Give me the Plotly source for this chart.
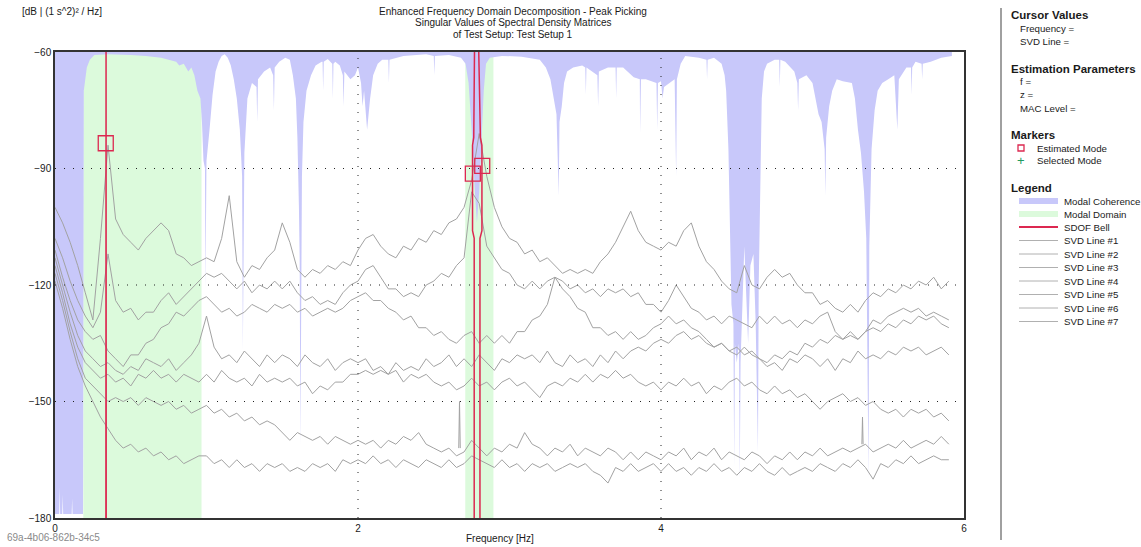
import plotly.graph_objects as go

# ---------------- data ----------------
FREQ_STEP = 0.05
FREQ = [round(i * FREQ_STEP, 2) for i in range(119)]  # 0.00 ... 5.90 Hz

SVD1 = [-100, -104, -109, -115, -122, -129, -108, -84, -103, -107,
        -109, -111, -108, -106, -104, -106, -112, -113, -115, -114,
        -113, -114, -108, -97, -114, -118, -115, -116, -113, -111,
        -104, -109, -116, -118, -116, -117, -115, -116, -114, -115,
        -111, -108, -107, -110, -112, -113, -110, -111, -108, -109,
        -106, -107, -104, -103, -100, -93, -81, -92, -100, -105,
        -108, -109, -112, -111, -114, -113, -115, -117, -116, -117,
        -116, -117, -114, -112, -109, -105, -101, -106, -109, -110,
        -111, -109, -110, -106, -104, -110, -114, -116, -119, -121,
        -122, -115, -120, -121, -118, -116, -118, -117, -120, -122,
        -122, -125, -124, -126, -127, -125, -127, -124, -122, -123,
        -121, -122, -120, -121, -119, -120, -118, -121, -119]
SVD2 = [-108, -113, -119, -124, -128, -131, -127, -112, -124, -127,
        -126, -129, -127, -127, -124, -122, -125, -123, -121, -119,
        -117, -118, -117, -119, -121, -119, -122, -120, -121, -119,
        -121, -119, -122, -124, -123, -125, -124, -125, -122, -120,
        -119, -116, -115, -118, -121, -121, -123, -122, -123, -120,
        -119, -117, -118, -115, -113, -96, -99, -110, -113, -116,
        -117, -120, -121, -119, -121, -119, -118, -121, -123, -126,
        -127, -131, -131, -133, -132, -134, -132, -134, -133, -131,
        -130, -128, -130, -129, -131, -132, -134, -136, -135, -137,
        -138, -136, -138, -139, -140, -138, -139, -137, -138, -135,
        -136, -134, -135, -133, -134, -132, -134, -132, -131, -132,
        -130, -131, -129, -130, -128, -129, -128, -130, -131]
SVD3 = [-111, -118, -124, -129, -132, -134, -133, -137, -139, -141,
        -138, -138, -135, -134, -131, -130, -127, -128, -126, -124,
        -123, -125, -127, -126, -128, -127, -125, -126, -127, -125,
        -126, -125, -127, -126, -128, -127, -126, -127, -126, -124,
        -123, -122, -124, -124, -126, -127, -129, -128, -131, -131,
        -133, -132, -134, -135, -133, -132, -135, -133, -135, -133,
        -135, -132, -132, -129, -128, -125, -118, -119, -121, -120,
        -122, -121, -123, -121, -122, -121, -123, -122, -125, -125,
        -127, -124, -120, -123, -126, -127, -129, -128, -130, -128,
        -129, -130, -131, -128, -130, -128, -130, -129, -131, -129,
        -130, -128, -127, -132, -134, -133, -134, -132, -129, -130,
        -128, -127, -126, -127, -126, -128, -127, -128, -129]
SVD4 = [-113, -120, -127, -133, -137, -139, -141, -140, -142, -143,
        -141, -142, -139, -140, -141, -139, -142, -140, -138, -135,
        -128, -136, -139, -138, -140, -137, -139, -141, -138, -140,
        -138, -139, -141, -138, -140, -141, -139, -142, -140, -139,
        -140, -139, -142, -141, -143, -140, -142, -141, -142, -139,
        -141, -140, -138, -141, -139, -141, -138, -140, -142, -139,
        -140, -138, -139, -138, -140, -137, -140, -141, -138, -140,
        -139, -141, -138, -140, -137, -139, -137, -136, -137, -135,
        -134, -135, -133, -132, -134, -133, -135, -136, -135, -137,
        -136, -138, -137, -139, -141, -140, -142, -139, -140, -138,
        -139, -141, -139, -142, -139, -140, -137, -139, -138, -139,
        -137, -138, -136, -137, -136, -138, -137, -136, -138]
SVD5 = [-115, -122, -130, -136, -140, -142, -144, -143, -145, -144,
        -146, -143, -144, -142, -144, -143, -145, -143, -144, -145,
        -143, -145, -142, -144, -145, -144, -146, -143, -145, -144,
        -145, -144, -146, -145, -148, -146, -147, -145, -145, -143,
        -143, -142, -143, -142, -143, -142, -145, -143, -144, -143,
        -145, -146, -145, -147, -146, -144, -146, -145, -147, -145,
        -144, -146, -145, -147, -149, -146, -145, -146, -144, -145,
        -143, -145, -143, -144, -142, -144, -143, -145, -146, -145,
        -147, -145, -146, -144, -146, -145, -148, -146, -147, -145,
        -144, -146, -145, -147, -148, -146, -148, -147, -149, -148,
        -150, -152, -150, -149, -148, -150, -149, -151, -150, -152,
        -153, -152, -154, -152, -153, -152, -154, -153, -155]
SVD6 = [-117, -124, -132, -139, -144, -146, -148, -150, -149, -150,
        -149, -151, -149, -150, -151, -150, -152, -151, -153, -152,
        -151, -153, -152, -154, -153, -155, -154, -156, -155, -156,
        -158, -160, -158, -159, -160, -159, -161, -159, -160, -161,
        -160, -161, -160, -162, -160, -161, -159, -160, -158, -161,
        -162, -163, -162, -164, -163, -160, -162, -164, -162, -163,
        -161, -162, -158, -161, -162, -164, -162, -163, -161, -164,
        -162, -163, -164, -162, -163, -165, -163, -165, -163, -164,
        -165, -163, -164, -162, -165, -163, -164, -162, -165, -163,
        -164, -165, -163, -164, -166, -164, -165, -163, -165, -163,
        -164, -162, -164, -163, -162, -163, -162, -161, -163, -162,
        -161, -162, -160, -162, -161, -160, -161, -159, -161]
SVD7 = [-119, -126, -134, -141, -146, -150, -154, -157, -160, -162,
        -161, -163, -162, -164, -163, -165, -164, -166, -165, -164,
        -164, -166, -165, -167, -165, -167, -166, -168, -166, -167,
        -166, -168, -167, -168, -166, -167, -166, -168, -165, -166,
        -165, -166, -164, -166, -165, -167, -165, -166, -167, -165,
        -166, -167, -165, -167, -166, -164, -165, -166, -167, -165,
        -167, -166, -168, -166, -167, -166, -168, -167, -166, -167,
        -166, -168, -169, -171, -167, -168, -166, -168, -167, -166,
        -168, -166, -168, -167, -169, -167, -168, -166, -168, -167,
        -169, -167, -168, -166, -168, -169, -167, -169, -168, -167,
        -168, -166, -167, -168, -166, -167, -165, -167, -170, -166,
        -167, -165, -166, -164, -166, -165, -164, -165, -165]
SVD_LINES = [SVD1, SVD2, SVD3, SVD4, SVD5, SVD6, SVD7]
SVD_NAMES = ["SVD Line #%d" % (i + 1) for i in range(7)]

# short single-sample spikes on the lower singular value lines
SPIKE_F = [2.665, 2.670, 2.675, None, 5.326, 5.330, 5.334]
SPIKE_DB = [-162, -150, -162, None, -161, -154, -161]

# modal coherence outline (drawn from the top of the plot down to this level)
COH_F = [0.000, 0.028, 0.031, 0.034, 0.048, 0.051, 0.054, 0.110, 0.113, 0.116, 0.185,
         0.190, 0.210, 0.230, 0.260, 0.350, 0.500, 0.600, 0.700, 0.750, 0.800, 0.820, 0.850,
         0.880, 0.900, 0.920, 0.940, 0.960, 0.970,
         0.980, 0.990, 0.993, 0.996, 1.000, 1.020, 1.040, 1.060, 1.080, 1.100,
         1.120, 1.140, 1.160, 1.180, 1.200, 1.220, 1.235, 1.240, 1.245, 1.250,
         1.270, 1.300, 1.330, 1.335, 1.340, 1.380, 1.420, 1.440, 1.445, 1.450,
         1.480, 1.520, 1.550, 1.570, 1.590, 1.600, 1.610, 1.615, 1.620, 1.625,
         1.630, 1.640, 1.660, 1.690, 1.720, 1.760, 1.800, 1.850, 1.880, 1.900,
         1.905, 1.910, 1.950, 1.980,
         2.000, 2.020, 2.030, 2.040, 2.060, 2.065, 2.080, 2.100, 2.130, 2.160,
         2.300, 2.450, 2.600, 2.680, 2.710, 2.730, 2.750, 2.770, 2.785, 2.800,
         2.815, 2.830, 2.845, 2.870, 2.950, 3.080, 3.200, 3.240, 3.270, 3.290,
         3.310, 3.325, 3.330, 3.345, 3.360, 3.380, 3.420, 3.480, 3.580, 3.585,
         3.590, 3.650, 3.750, 3.820, 3.860, 3.862, 3.868, 3.900, 3.970, 3.975,
         3.980,
         4.000, 4.010, 4.020, 4.090, 4.100, 4.105, 4.130, 4.160, 4.250, 4.350,
         4.400, 4.420, 4.430, 4.445, 4.455, 4.465, 4.478, 4.483, 4.488, 4.500,
         4.515, 4.520, 4.525, 4.540, 4.550, 4.560, 4.575, 4.590, 4.610, 4.625,
         4.640, 4.645, 4.655, 4.665, 4.680, 4.700, 4.750, 4.820, 4.880, 4.900,
         4.905, 4.910, 4.960, 5.000, 5.020, 5.040, 5.060, 5.080, 5.085, 5.090,
         5.110, 5.130, 5.160, 5.200, 5.260, 5.280, 5.300, 5.320, 5.340, 5.355,
         5.370, 5.375, 5.390, 5.410, 5.430, 5.460, 5.500, 5.540, 5.560, 5.570,
         5.620, 5.680, 5.780, 5.850, 5.920]
COH_DB = [-179, -179, -172, -179, -179, -174, -179, -179, -175, -179, -179,
          -70, -64, -62, -60.8, -60.6, -60.8, -61, -61.5, -62, -62.5, -63.5, -63,
          -65, -64, -66, -70, -72, -78,
          -88, -90, -121, -90, -88, -80, -71, -65, -62.5, -61,
          -60.6, -61.5, -63.4, -67, -72, -80, -92, -137, -90, -86,
          -72, -68, -69, -78, -67, -65, -64, -66, -75, -64,
          -62.5, -61.5, -62, -66, -72, -82, -100, -113, -161, -110,
          -92, -78, -70, -66, -63.5, -62.5, -61.8, -62.5, -63.5, -66,
          -74, -65, -67, -66,
          -64, -68, -74, -70, -80, -78, -72, -66, -63, -62,
          -61, -60.6, -60.8, -61.5, -63, -68, -80, -95, -104, -96,
          -84, -70, -63, -61.5, -61, -61.2, -62, -64, -67, -71,
          -76, -97, -78, -74, -68, -65, -64, -63.5, -66, -74,
          -65, -64, -64, -66.5, -67, -81, -67, -67, -68, -80,
          -68,
          -67.5, -72, -69, -67, -92, -67, -63, -61, -61.5, -61.5,
          -63, -66, -70, -85, -110, -125, -130, -167, -135, -140,
          -135, -170, -140, -125, -110, -120, -135, -115, -112, -130,
          -163, -120, -90, -72, -65, -63, -62, -62.5, -65, -68,
          -75, -67, -66, -68, -72, -76, -78, -85, -97, -82,
          -74, -70, -67, -67.5, -68, -72, -80, -86, -96, -108,
          -170, -110, -85, -75, -70, -68, -67, -66, -80, -67,
          -64, -62.5, -62.5, -61.5, -61]
# extra thin dips of the coherence band
COH_SPIKE_F = [1.766, 1.770, 1.774, 1.830, 1.834, 1.838, 2.200, 2.204, 2.208,
               2.500, 2.504, 2.508, 3.500, 3.504, 3.508, 3.700, 3.704, 3.708,
               4.300, 4.304, 4.308, 4.780, 4.784, 4.788, 5.650, 5.654, 5.658,
               5.720, 5.724, 5.728]
COH_SPIKE_DB = [-62.5, -70, -62.5, -63, -72, -63, -62, -68, -62,
                -61, -66, -61, -64, -71, -64, -64, -72, -64,
                -62, -67, -62, -62, -69, -62, -64, -71, -64,
                -63, -67, -63]
assert len(COH_F) == len(COH_DB)
assert len(COH_SPIKE_F) == len(COH_SPIKE_DB)
for s in SVD_LINES:
    assert len(s) == len(FREQ)

# modal domains (frequency bands)
DOMAIN_START = [0.187, 2.708]
DOMAIN_END = [0.967, 2.894]

# SDOF bells
BELL1_F = [0.336, 0.337, 0.338]
BELL1_DB = [-180, -60, -180]
BELL2_F = [2.767, 2.767, 2.756, 2.756, 2.764, 2.769, None, 2.797, 2.808, 2.818, 2.818, 2.805, 2.805]
BELL2_DB = [-180, -108, -106, -84, -82, -60, None, -60, -82, -84, -106, -108, -180]

# estimated modes
MODE_F = [0.335, 2.758, 2.820]
MODE_DB = [-83.5, -91.3, -89.3]

X_TICKS = [0, 2, 4, 6]
Y_TICKS = [-60, -90, -120, -150, -180]

# ---------------- styling ----------------
W, H = 1141, 547
ML, MR, MT, MB = 55, 177, 52, 29
PW, PH = W - ML - MR, H - MT - MB
FONT = "Liberation Sans, Arial, sans-serif"
TXT = "#1a1a1a"
BLUE = "rgb(200,200,250)"
GREEN = "rgb(220,250,220)"
RED = "#dc2850"
GRAY = "#a2a2a2"
PANEL_SIZE = 9.7


def px(x):
    return (x - ML) / PW


def py(y):
    return (H - MB - y) / PH


coh = sorted(zip(COH_F + COH_SPIKE_F, COH_DB + COH_SPIKE_DB))
coh_f = [p[0] for p in coh]
coh_db = [p[1] for p in coh]

fig = go.Figure()

# modal coherence (filled from top of plot down to coherence level)
y_top = Y_TICKS[0]
fig.add_trace(go.Scatter(
    x=coh_f + coh_f[::-1], y=coh_db + [y_top] * len(coh_f),
    fill="toself", fillcolor=BLUE, mode="lines", line=dict(width=0),
    hoverinfo="skip", showlegend=False))

for name, vals in zip(SVD_NAMES, SVD_LINES):
    fig.add_trace(go.Scatter(x=FREQ, y=vals, mode="lines", name=name,
                             line=dict(color=GRAY, width=1), showlegend=False))
fig.add_trace(go.Scatter(x=SPIKE_F, y=SPIKE_DB, mode="lines",
                         line=dict(color=GRAY, width=1), showlegend=False))

for bf, bd in ((BELL1_F, BELL1_DB), (BELL2_F, BELL2_DB)):
    fig.add_trace(go.Scatter(x=bf, y=bd, mode="lines", connectgaps=False,
                             line=dict(color=RED, width=1.5), showlegend=False))

fig.add_trace(go.Scatter(x=MODE_F, y=MODE_DB, mode="markers", showlegend=False,
                         marker=dict(symbol="square-open", size=15,
                                     color=RED, line=dict(color=RED, width=1.3))))

shapes = []
# modal domains
for a, b in zip(DOMAIN_START, DOMAIN_END):
    shapes.append(dict(type="rect", xref="x", yref="y", x0=a, x1=b,
                       y0=Y_TICKS[-1], y1=Y_TICKS[0], fillcolor=GREEN,
                       line=dict(width=0), layer="below"))
# dotted grid above fills
for yv in Y_TICKS[1:-1]:
    shapes.append(dict(type="line", xref="x", yref="y", x0=X_TICKS[0], x1=X_TICKS[-1],
                       y0=yv, y1=yv, line=dict(color="#222", width=1, dash="1px,8px"),
                       layer="above"))
for xv in X_TICKS[1:-1]:
    shapes.append(dict(type="line", xref="x", yref="y", x0=xv, x1=xv,
                       y0=Y_TICKS[-1], y1=Y_TICKS[0],
                       line=dict(color="#222", width=1, dash="1px,8px"), layer="above"))

# right info panel
shapes.append(dict(type="line", xref="paper", yref="paper", x0=px(1001), x1=px(1001),
                   y0=py(8), y1=py(540), line=dict(color="#a0a0a0", width=2)))
# marker legend: estimated mode square
shapes.append(dict(type="rect", xref="paper", yref="paper", x0=px(1018), x1=px(1024),
                   y0=py(151), y1=py(145), line=dict(color=RED, width=1.3)))
# legend swatches
shapes.append(dict(type="rect", xref="paper", yref="paper", x0=px(1019), x1=px(1058),
                   y0=py(204), y1=py(198), fillcolor=BLUE, line=dict(width=0)))
shapes.append(dict(type="rect", xref="paper", yref="paper", x0=px(1019), x1=px(1058),
                   y0=py(217), y1=py(211), fillcolor=GREEN, line=dict(width=0)))
shapes.append(dict(type="line", xref="paper", yref="paper", x0=px(1019), x1=px(1058),
                   y0=py(227), y1=py(227), line=dict(color=RED, width=2)))
LEG_Y0, LEG_DY = 240.5, 13.5
for i in range(len(SVD_NAMES)):
    yy = LEG_Y0 + i * LEG_DY
    shapes.append(dict(type="line", xref="paper", yref="paper", x0=px(1019), x1=px(1058),
                       y0=py(yy), y1=py(yy), line=dict(color="#b0b0b0", width=1)))

annotations = []


def ann(text, x, y, size=10, xanchor="left", color=TXT):
    annotations.append(dict(text=text, x=px(x), y=py(y), xref="paper", yref="paper",
                            xanchor=xanchor, yanchor="middle", showarrow=False,
                            font=dict(family=FONT, size=size, color=color)))


ann("[dB | (1 s^2)² / Hz]", 20, 11.5)
ann("Enhanced Frequency Domain Decomposition - Peak Picking", 513, 11.5, xanchor="center")
ann("Singular Values of Spectral Density Matrices", 513, 23, xanchor="center")
ann("of Test Setup: Test Setup 1", 513, 34.5, xanchor="center")
ann("Frequency [Hz]", 500, 538, xanchor="center")
ann("69a-4b06-862b-34c5", 5, 537, size=10, color="#8a8a8a")

ann("<b>Cursor Values</b>", 1009, 15, size=11.5)
ann("Frequency =", 1018, 28, size=PANEL_SIZE)
ann("SVD Line =", 1018, 41, size=PANEL_SIZE)
ann("<b>Estimation Parameters</b>", 1009, 69, size=11.5)
ann("f =", 1018, 82, size=PANEL_SIZE)
ann("z =", 1018, 95, size=PANEL_SIZE)
ann("MAC Level =", 1018, 108, size=PANEL_SIZE)
ann("<b>Markers</b>", 1009, 135, size=11.5)
ann("Estimated Mode", 1035, 148, size=PANEL_SIZE)
ann("+", 1021, 161, size=13, xanchor="center", color="#209a60")
ann("Selected Mode", 1035, 161, size=PANEL_SIZE)
ann("<b>Legend</b>", 1009, 188, size=11.5)
ann("Modal Coherence", 1062, 201, size=PANEL_SIZE)
ann("Modal Domain", 1062, 214, size=PANEL_SIZE)
ann("SDOF Bell", 1062, 227, size=PANEL_SIZE)
for i, name in enumerate(SVD_NAMES):
    ann(name, 1062, LEG_Y0 + i * LEG_DY, size=PANEL_SIZE)

axis_common = dict(showgrid=False, zeroline=False, showline=True, mirror=True,
                   linecolor="#333", linewidth=1.5, ticks="",
                   tickfont=dict(family=FONT, size=10, color=TXT))
fig.update_layout(
    width=W, height=H, margin=dict(l=ML, r=MR, t=MT, b=MB, pad=0),
    paper_bgcolor="white", plot_bgcolor="white",
    xaxis=dict(range=[X_TICKS[0], X_TICKS[-1]], tickvals=X_TICKS, **axis_common),
    yaxis=dict(range=[Y_TICKS[-1], Y_TICKS[0]], tickvals=Y_TICKS, **axis_common),
    shapes=shapes, annotations=annotations, showlegend=False,
    font=dict(family=FONT, size=10, color=TXT),
)

fig.write_html("out.html", config={"displayModeBar": False},
               post_script="document.body.style.margin='0';document.body.style.overflow='hidden';")
